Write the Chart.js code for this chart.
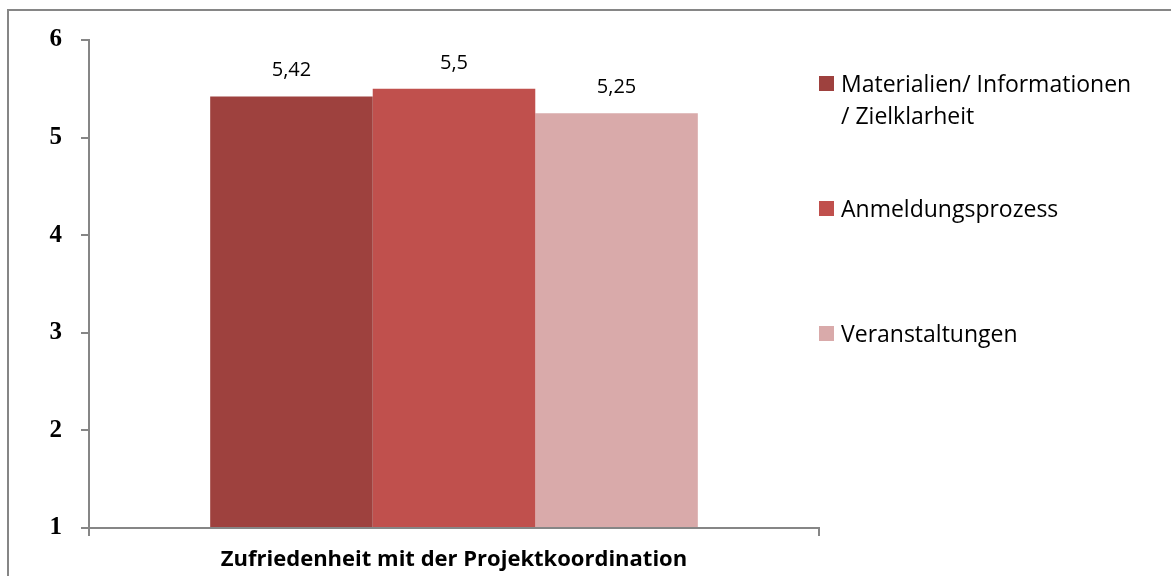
<!DOCTYPE html>
<html>
<head>
<meta charset="utf-8">
<script src="https://cdn.jsdelivr.net/npm/chart.js@4/dist/chart.umd.min.js"></script>
<style>
html,body{margin:0;padding:0;background:#fff;}
#wrap{width:1171px;height:576px;position:relative;}
</style>
</head>
<body>
<div id="wrap"><canvas id="c" width="1171" height="576"></canvas></div>
<script>
const categories = ["Zufriedenheit mit der Projektkoordination"];
const seriesNames = ["Materialien/ Informationen / Zielklarheit", "Anmeldungsprozess", "Veranstaltungen"];
const legendLines = [["Materialien/ Informationen", "/ Zielklarheit"], ["Anmeldungsprozess"], ["Veranstaltungen"]];
const seriesValues = [[5.42], [5.5], [5.25]];
const valueLabels = ["5,42", "5,5", "5,25"];
const seriesColors = ["#9E413E", "#C0504D", "#D9AAAA"];
const yTicks = [1, 2, 3, 4, 5, 6];

const frame = {
  id: 'frame',
  beforeDraw(chart) {
    const ctx = chart.ctx;
    ctx.save();
    ctx.fillStyle = '#fff';
    ctx.fillRect(0, 0, chart.width, chart.height);
    ctx.strokeStyle = '#868686';
    ctx.lineWidth = 2;
    ctx.beginPath();
    ctx.moveTo(8, 600);
    ctx.lineTo(8, 10);
    ctx.lineTo(1200, 10);
    ctx.stroke();
    ctx.restore();
  }
};

const valueLabelPlugin = {
  id: 'valueLabels',
  afterDatasetsDraw(chart) {
    const ctx = chart.ctx;
    ctx.save();
    ctx.font = '20px "Open Sans"';
    ctx.fillStyle = '#000';
    ctx.textAlign = 'center';
    ctx.textBaseline = 'middle';
    chart.data.datasets.forEach((ds, i) => {
      const meta = chart.getDatasetMeta(i);
      meta.data.forEach((bar) => {
        ctx.fillText(valueLabels[i], bar.x, bar.y - 26);
      });
    });
    ctx.restore();
  }
};

const legendPlugin = {
  id: 'sideLegend',
  afterDraw(chart) {
    const ctx = chart.ctx;
    ctx.save();
    ctx.font = '23px "Open Sans"';
    ctx.fillStyle = '#000';
    ctx.textBaseline = 'middle';
    const ys = [83, 208, 333];
    legendLines.forEach((lines, i) => {
      ctx.fillStyle = seriesColors[i];
      ctx.fillRect(819, ys[i] - 7, 15, 15);
      ctx.fillStyle = '#000';
      lines.forEach((ln, j) => {
        ctx.fillText(ln, 841, ys[i] + 2 + j * 32);
      });
    });
    ctx.restore();
  }
};

new Chart(document.getElementById('c'), {
  type: 'bar',
  data: {
    labels: categories,
    datasets: seriesNames.map((n, i) => ({
      label: n,
      data: seriesValues[i],
      backgroundColor: seriesColors[i],
      borderWidth: 0,
      base: 1
    }))
  },
  options: {
    responsive: false,
    animation: false,
    devicePixelRatio: 1,
    layout: { padding: { left: 0, top: 40, right: 352, bottom: 0 } },
    plugins: { legend: { display: false }, tooltip: { enabled: false } },
    datasets: { bar: { categoryPercentage: 0.668, barPercentage: 1.0 } },
    scales: {
      x: {
        offset: true,
        grid: { display: true, offset: true, drawOnChartArea: false, drawTicks: true, tickLength: 8, color: '#868686', lineWidth: 2 },
        border: { display: true, color: '#868686', width: 2 },
        ticks: { color: '#000', font: { family: 'Open Sans', size: 22, weight: 'bold' }, padding: 11 },
        afterFit(scale) { scale.height = 48; }
      },
      y: {
        min: 1, max: 6,
        afterBuildTicks(scale) { scale.ticks = yTicks.map(v => ({ value: v })); },
        grid: { display: true, drawOnChartArea: false, drawTicks: true, tickLength: 8, color: '#868686', lineWidth: 2 },
        border: { display: true, color: '#868686', width: 2 },
        ticks: { color: '#000', font: { family: 'Liberation Serif', size: 25, weight: 'bold' }, padding: 19 },
        afterFit(scale) { scale.width = 89; }
      }
    }
  },
  plugins: [frame, valueLabelPlugin, legendPlugin]
});
</script>
</body>
</html>
